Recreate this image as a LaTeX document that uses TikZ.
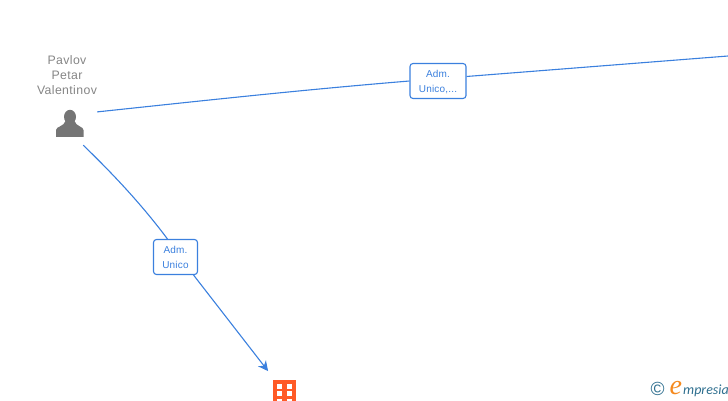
\documentclass[tikz,border=0pt]{standalone}
\usepackage{fontspec}
\setmainfont{Liberation Sans}
\newfontfamily\namefont[LetterSpace=3]{Liberation Sans}
\newfontfamily\edgefont[LetterSpace=2]{Liberation Sans}
\newfontfamily\logofont{Carlito}
\newfontfamily\swashfont{Liberation Serif}
\usetikzlibrary{arrows.meta}
\definecolor{linkblue}{HTML}{3B80DE}
\definecolor{iconorange}{HTML}{FF5A26}
\definecolor{icongray}{HTML}{757575}
\definecolor{namegray}{HTML}{858585}
\definecolor{logoteal}{HTML}{2F6F8F}
\definecolor{logoorange}{HTML}{F58A1F}
\tikzset{%
  namelabel/.style = {align=center, inner sep=0pt, text=namegray,%
                      font=\namefont\fontsize{12.3}{15}\selectfont},%
  rolebox/.style   = {shape=rectangle, rounded corners=3pt, draw=linkblue,%
                      fill=white, align=center, inner sep=0pt, text=linkblue,%
                      line width=1.1pt,%
                      font=\edgefont\fontsize{10}{15}\selectfont},%
  personbox/.style = {shape=rectangle, minimum width=54pt, minimum height=42pt, inner sep=0pt},%
  companybox/.style= {shape=rectangle, minimum width=23pt, minimum height=30pt,%
                      inner sep=0pt, fill=iconorange},%
  window/.style    = {fill=white},%
  link/.style      = {draw=linkblue, line width=1.1pt}%
}
\begin{document}
\begin{tikzpicture}[x=1pt,y=-1pt]%
	\useasboundingbox (0,0) rectangle (728,400);%
	% nodes
	\node [personbox] (pavlov) at (70,124) {};%
	\node [namelabel] (pavlovname) at (67,75.5) {Pavlov\\Petar\\Valentinov};%
	\node [companybox] (company) at (284.7,395) {};%
	\node [rolebox, minimum width=56pt, minimum height=35pt] (unicoetc) at (438,81) {\rule{0pt}{9pt}Adm.\\Unico,...};%
	\node [rolebox, minimum width=44pt, minimum height=35pt] (unico) at (175.5,257) {Adm.\\Unico};%
	\coordinate (offpage) at (728,56);%
	% person icon
	\fill [icongray] (70,116.8) ellipse [x radius=6, y radius=7];%
	\fill [icongray] (56,136.8) -- (56,130) .. controls (56,126.5) and (64,126.5) .. (65.5,121)%
		-- (74.5,121) .. controls (76,126.5) and (83.5,126.5) .. (83.5,130) -- (83.5,136.8) -- cycle;%
	% company icon
	\foreach \col in {276.7,287} {%
		\foreach \row in {384,391.3,398.6} {%
			\fill [window] (\col,\row) rectangle +(5,4.7);%
		}%
	}%
	% connectors
	\draw [link] (pavlov.24) .. controls (200,101) and (300,90) .. (unicoetc.west);%
	\draw [link] (unicoetc.9) -- (offpage);%
	\draw [link] (pavlov.-58) .. controls (115,176) and (142,205) .. (unico.114);%
	\draw [link, -{Stealth[length=10pt,width=10pt]}, shorten >=11pt] (unico.-45) -- (company.123.7);%
	% logo
	\node [text=logoteal, inner sep=0pt, font=\fontsize{19}{19}\selectfont] (copyright) at (657.5,389) {©};%
	\node [text=logoorange, inner sep=0pt, anchor=base west, font=\swashfont\itshape\fontsize{28}{28}\selectfont] (swash) at (669.5,394) {e};%
	\node [text=logoteal, inner sep=0pt, anchor=base west, font=\logofont\itshape\fontsize{14}{14}\selectfont] (brand) at (683,394) {mpresia};%
\end{tikzpicture}
\end{document}
